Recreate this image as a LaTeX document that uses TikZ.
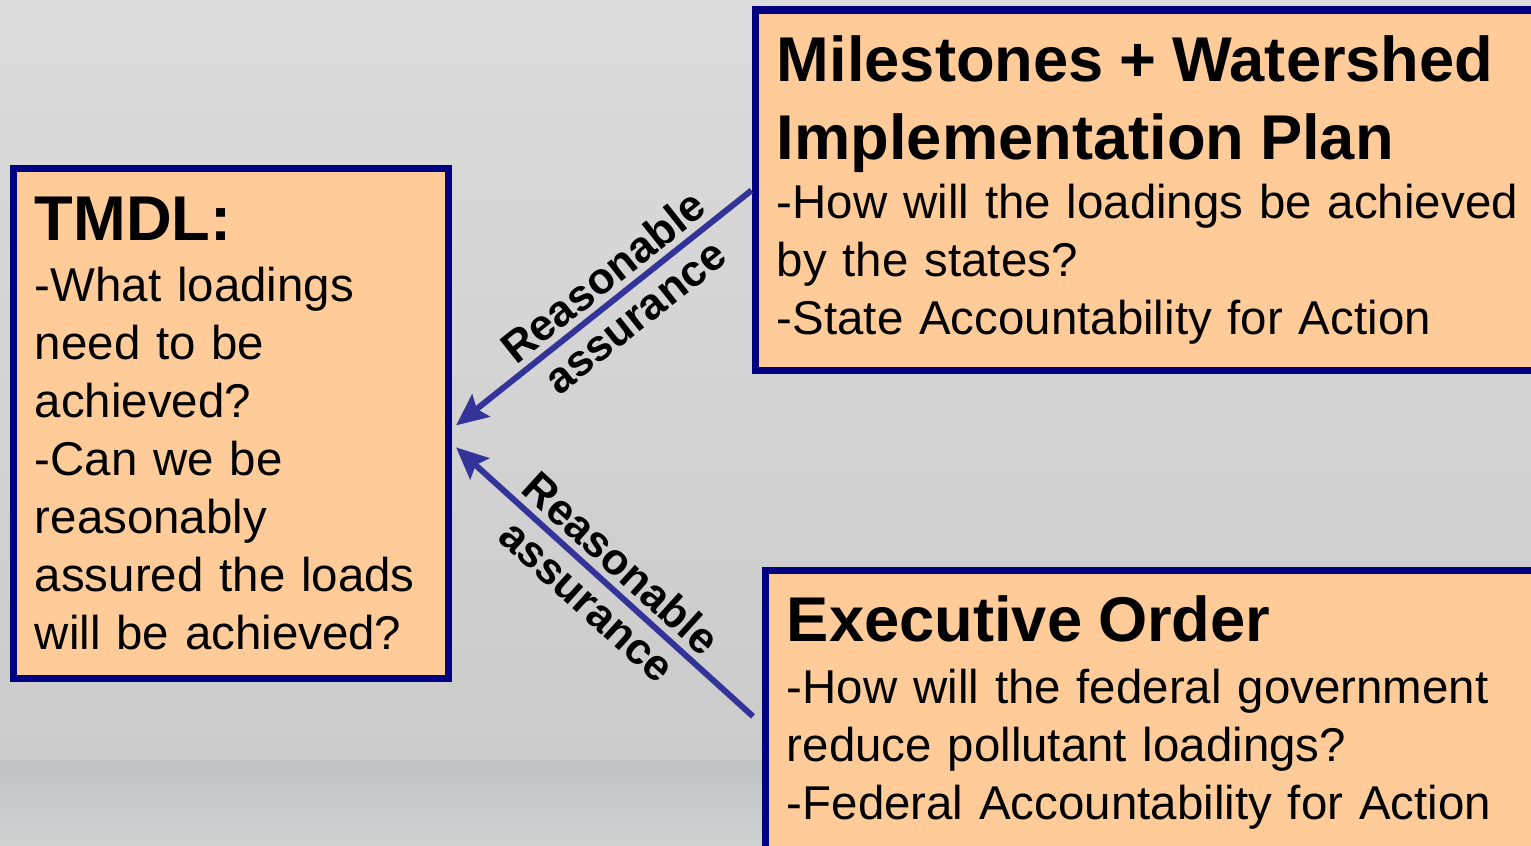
\documentclass[tikz,border=0pt]{standalone}
\usepackage{fontspec}
\setmainfont{Liberation Sans}
\usetikzlibrary{arrows.meta, positioning}

\definecolor{BoxFill}{HTML}{FFCC99}
\definecolor{BoxLine}{HTML}{000080}
\definecolor{ArrowBlue}{HTML}{333399}
\definecolor{SkyTop}{HTML}{DCDCDC}
\definecolor{SkyLow}{HTML}{CBCBCB}
\definecolor{SeaTop}{HTML}{BEC3C3}
\definecolor{SeaLow}{HTML}{D0D2D2}

\newcommand{\TitleFont}{\fontsize{18}{22}\selectfont\bfseries}

\begin{document}
\begin{tikzpicture}[
	BoxNode/.style={rectangle, draw=BoxLine, line width=2.2pt, fill=BoxFill,
		anchor=north west, inner xsep=0.215cm, inner ysep=0pt, align=left,
		font=\fontsize{13.5}{16.5}\selectfont},
	LinkArrow/.style={draw=ArrowBlue, line width=1.7pt,
		-{Stealth[length=9pt, width=8pt, inset=1.5pt]}},
	LinkLabel/.style={sloped, align=center, inner sep=1pt,
		font=\fontsize{12.5}{14.5}\selectfont\bfseries}
	]

\useasboundingbox (0,0) rectangle (15.31,8.45);
\clip (0,0) rectangle (15.31,8.45);

% background: hazy sky and sea
\fill [top color=SkyTop, bottom color=SkyLow] (0,0.85) rectangle (15.31,8.45);
\fill [top color=SeaTop, bottom color=SeaLow] (0,0) rectangle (15.31,0.85);

\node [BoxNode, text width=3.92cm, minimum height=5.1cm] (tmdl) at (0.095,6.805)
	{{\TitleFont TMDL:\par}\vspace{1pt}
	-What loadings\\need to be\\achieved?\\-Can we be\\reasonably\\assured the loads\\will be achieved?};

\node [BoxNode, text width=7.57cm, minimum height=3.6cm] (mile) at (7.515,8.385)
	{{\TitleFont Milestones + Watershed\\Implementation Plan\par}\vspace{0.5pt}
	-How will the loadings be achieved\\by the states?\\-State Accountability for Action};

\node [BoxNode, text width=7.57cm, minimum height=2.84cm] (exec) at (7.615,2.785)
	{{\TitleFont Executive Order\par}\vspace{1pt}
	-How will the federal government\\reduce pollutant loadings?\\-Federal Accountability for Action};

\draw [LinkArrow] (mile.west) -- ([xshift=1.1pt, yshift=-0.02cm]tmdl.east)
	node [LinkLabel, pos=0.45] (upperlbl) {Reasonable\\assurance};
\draw [LinkArrow] ([xshift=-0.085cm, yshift=-0.04cm]exec.west) -- ([xshift=1.1pt, yshift=-0.24cm]tmdl.east)
	node [LinkLabel, pos=0.5] (lowerlbl) {Reasonable\\assurance};

\end{tikzpicture}
\end{document}
